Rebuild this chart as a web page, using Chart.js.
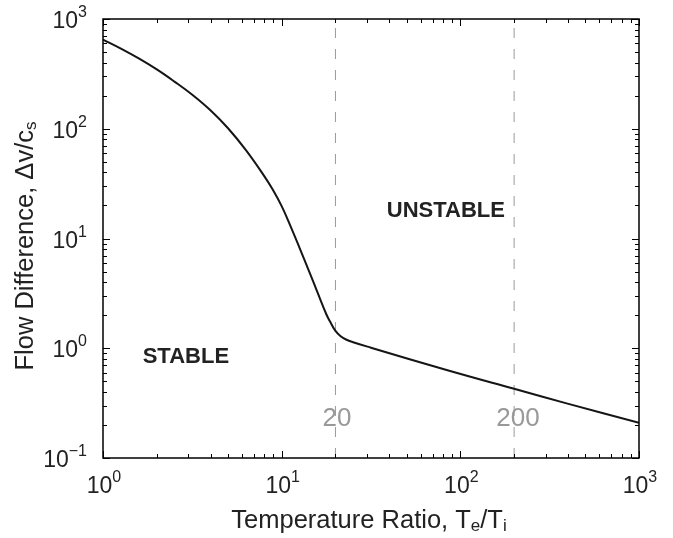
<!DOCTYPE html>
<html>
<head>
<meta charset="utf-8">
<script src="https://cdn.jsdelivr.net/npm/chart.js@4.4.1/dist/chart.umd.min.js"></script>
<style>
  html, body { margin: 0; padding: 0; background: #fff; }
  #wrap { width: 673px; height: 538px; }
</style>
</head>
<body>
<div id="wrap"><canvas id="chart" width="673" height="538"></canvas></div>
<script>
// curve: temperature ratio -> flow difference
const ratio = [1, 1.26, 1.585, 2, 2.51, 3.16, 3.98, 5.01, 6.31, 7.94, 8.91, 10, 11.22, 12.59, 14.13, 15.85, 17.78, 18.62, 19.95, 21.38, 22.91, 25.12, 31.62, 83.8, 200, 398, 1000];
const flowDiff = [650, 537, 437, 347, 269, 204, 148, 101, 63.8, 37.6, 27.9, 19.7, 12.9, 8.22, 5.19, 3.24, 2.04, 1.76, 1.445, 1.288, 1.202, 1.135, 1.012, 0.634, 0.427, 0.313, 0.209];

// dashed marker lines
const markers = [20, 200];
const markerLabels = ['20', '200'];

// axis ticks (decades)
const xDecades = [0, 1, 2, 3];
const yDecades = [-1, 0, 1, 2, 3];

const xRange = [1, 1000];
const yRange = [0.1, 1000];

const FONT = '"Liberation Sans", Arial, Helvetica, sans-serif';
const TEXT = '#222';

function textWithSub(ctx, parts, x, y) {
    // parts: [[text, 'n'|'sub'], ...], drawn centred on x
    const fontOf = p => (p[1] === 'n' ? '25.5px ' : '17px ') + FONT;
    const widths = parts.map(p => {
        ctx.font = fontOf(p);
        return ctx.measureText(p[0]).width;
    });
    let cx = x - widths.reduce((a, b) => a + b, 0) / 2;
    parts.forEach((p, i) => {
        ctx.font = fontOf(p);
        const dy = p[1] === 'sub' ? 3 : 0;
        ctx.fillText(p[0], cx, y + dy);
        cx += widths[i];
    });
}

function pow10(ctx, exp, x, y, align) {
    const base = '10';
    const e = exp < 0 ? '\u2212' + Math.abs(exp) : String(exp);
    ctx.font = '23px ' + FONT;
    const wb = ctx.measureText(base).width;
    ctx.font = '16px ' + FONT;
    const we = ctx.measureText(e).width;
    const start = align === 'center' ? x - (wb + we) / 2 : x - (wb + we);
    ctx.font = '23px ' + FONT;
    ctx.fillText(base, start, y);
    ctx.font = '16px ' + FONT;
    ctx.fillText(e, start + wb, y - 11);
}

const framePlugin = {
    id: 'frame',
    afterDatasetsDraw(chart) {
        const ctx = chart.ctx;
        const a = chart.chartArea;
        const xs = chart.scales.x;
        const ys = chart.scales.y;
        ctx.save();

        // annotation text
        ctx.textBaseline = 'alphabetic';
        ctx.textAlign = 'center';
        ctx.fillStyle = '#999';
        ctx.font = '26px ' + FONT;
        ctx.fillText(markerLabels[0], xs.getPixelForValue(20.4), ys.getPixelForValue(0.196));
        ctx.fillText(markerLabels[1], xs.getPixelForValue(210), ys.getPixelForValue(0.196));
        ctx.fillStyle = TEXT;
        ctx.font = 'bold 22px ' + FONT;
        ctx.fillText('UNSTABLE', xs.getPixelForValue(83), ys.getPixelForValue(15.7));
        ctx.fillText('STABLE', xs.getPixelForValue(2.91), ys.getPixelForValue(0.734));

        // box
        ctx.strokeStyle = '#000';
        ctx.lineWidth = 1.5;
        ctx.strokeRect(a.left, a.top, a.right - a.left, a.bottom - a.top);

        // ticks, inward, all four sides
        ctx.lineWidth = 1;
        ctx.beginPath();
        xDecades.forEach(d => {
            for (let k = 1; k <= 9; k++) {
                const v = k * Math.pow(10, d);
                if (v > xRange[1]) break;
                const px = Math.round(xs.getPixelForValue(v)) + 0.5;
                const len = k === 1 ? 7 : 4;
                ctx.moveTo(px, a.bottom); ctx.lineTo(px, a.bottom - len);
                ctx.moveTo(px, a.top); ctx.lineTo(px, a.top + len);
            }
        });
        yDecades.forEach(d => {
            for (let k = 1; k <= 9; k++) {
                const v = k * Math.pow(10, d);
                if (v > yRange[1]) break;
                const py = Math.round(ys.getPixelForValue(v)) + 0.5;
                const len = k === 1 ? 7 : 4;
                ctx.moveTo(a.left, py); ctx.lineTo(a.left + len, py);
                ctx.moveTo(a.right, py); ctx.lineTo(a.right - len, py);
            }
        });
        ctx.stroke();

        // tick labels
        ctx.textAlign = 'left';
        ctx.fillStyle = TEXT;
        xDecades.forEach(d => {
            pow10(ctx, d, xs.getPixelForValue(Math.pow(10, d)) + 1, a.bottom + 35, 'center');
        });
        yDecades.forEach(d => {
            pow10(ctx, d, a.left - 16, ys.getPixelForValue(Math.pow(10, d)) + 9, 'right');
        });

        // axis titles
        textWithSub(ctx, [['Temperature Ratio, T', 'n'], ['e', 'sub'], ['/T', 'n'], ['i', 'sub']],
            (a.left + a.right) / 2 - 2, 528);
        ctx.translate(33, 246);
        ctx.rotate(-Math.PI / 2);
        textWithSub(ctx, [['Flow Difference, \u0394v/c', 'n'], ['s', 'sub']], 0, 0);
        ctx.restore();
    }
};

const curve = ratio.map((r, i) => ({x: r, y: flowDiff[i]}));
const markerSets = markers.map(m => ({
    data: [{x: m, y: yRange[0]}, {x: m, y: yRange[1]}],
    borderColor: '#9a9a9a',
    borderWidth: 1,
    borderDash: [10, 11],
    pointRadius: 0,
    order: 2
}));

new Chart(document.getElementById('chart'), {
    type: 'line',
    data: {
        datasets: [{
            data: curve,
            borderColor: '#151515',
            borderWidth: 2,
            pointRadius: 0,
            tension: 0.4,
            order: 0
        }, ...markerSets]
    },
    options: {
        responsive: false,
        animation: false,
        layout: {padding: {left: 103, right: 34, top: 19, bottom: 80}},
        scales: {
            x: {type: 'logarithmic', min: xRange[0], max: xRange[1], display: false},
            y: {type: 'logarithmic', min: yRange[0], max: yRange[1], display: false}
        },
        plugins: {legend: {display: false}, tooltip: {enabled: false}}
    },
    plugins: [framePlugin]
});
</script>
</body>
</html>
